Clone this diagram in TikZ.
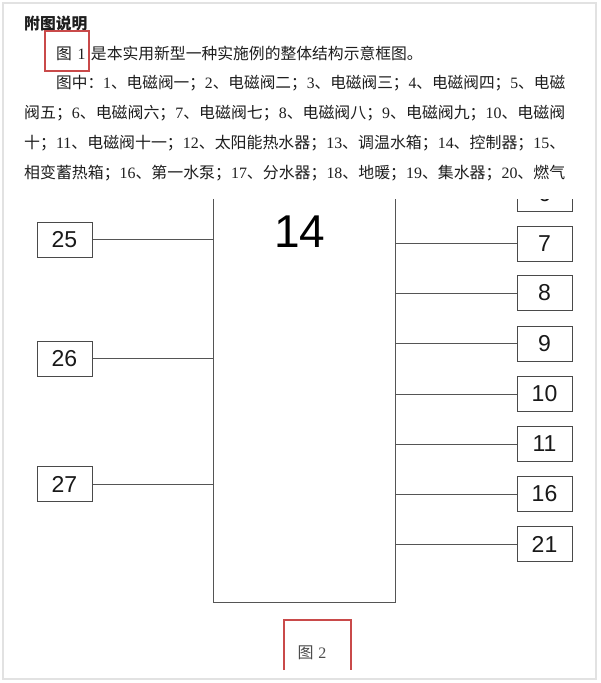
\documentclass[tikz,border=0pt]{standalone}
\usepackage{fontspec}
\usepackage{graphicx}
\setmainfont{Liberation Serif}
\newfontfamily\cjk{Noto Sans CJK SC}
\newfontfamily\arialf{Liberation Sans}
\newcommand\nm[1]{{\rmfamily #1}}
\definecolor{boxc}{HTML}{4A4A4A}
\definecolor{wirec}{HTML}{555555}
\definecolor{textc}{HTML}{1E1E1E}
\definecolor{redc}{HTML}{C94A4A}
\definecolor{framec}{HTML}{E2E2E2}
\tikzset{
  numbox/.style={draw=boxc, line width=1pt, minimum width=55pt, minimum height=35pt, inner sep=0pt,
    font=\arialf\fontsize{23pt}{23pt}\selectfont, text=black!90},
  wire/.style={draw=wirec, line width=1pt},
  txtline/.style={anchor=base west, inner sep=0pt, font=\cjk\fontsize{15.8pt}{18pt}\selectfont, text=textc},
  redmark/.style={draw=redc, line width=1.3pt}
}
\begin{document}
\begin{tikzpicture}[x=1pt,y=-1pt]
\useasboundingbox (0,0) rectangle (600,683);
\fill[white] (0,0) rectangle (600,683);
\draw[framec, line width=1.2pt] (3,3) rectangle (596,679);

% text block
\node[txtline, font=\cjk\bfseries\fontsize{15.8pt}{18pt}\selectfont] (title) at (24,29) {附图说明};
\node[txtline] (l1) at (56,59) {图\hspace{0.35em}\nm{1}\hspace{0.35em}是本实用新型一种实施例的整体结构示意框图。};
\node[txtline] (l2) at (56,88) {\resizebox{509pt}{\height}{图中：\nm{1}、电磁阀一；\nm{2}、电磁阀二；\nm{3}、电磁阀三；\nm{4}、电磁阀四；\nm{5}、电磁}};
\node[txtline] (l3) at (24,118) {\resizebox{541pt}{\height}{阀五；\nm{6}、电磁阀六；\nm{7}、电磁阀七；\nm{8}、电磁阀八；\nm{9}、电磁阀九；\nm{10}、电磁阀}};
\node[txtline] (l4) at (24,148) {\resizebox{541pt}{\height}{十；\nm{11}、电磁阀十一；\nm{12}、太阳能热水器；\nm{13}、调温水箱；\nm{14}、控制器；\nm{15}、}};
\node[txtline] (l5) at (24,178) {\resizebox{541pt}{\height}{相变蓄热箱；\nm{16}、第一水泵；\nm{17}、分水器；\nm{18}、地暖；\nm{19}、集水器；\nm{20}、燃气}};
\draw[redmark] (45,31) rectangle (89,71);

% controller
\node[minimum width=181pt, minimum height=403pt, inner sep=0pt] (ctrl) at (304.5,400.5) {};
\draw[wire] (ctrl.north west) -- (ctrl.south west) -- (ctrl.south east) -- (ctrl.north east);
\node[inner sep=0pt, font=\arialf\fontsize{46pt}{46pt}\selectfont, text=black] (t14) at (300,232) {14};

% left boxes
\node[numbox] (b25) at (64.5,239.5) {25};
\node[numbox] (b26) at (64.5,358.5) {26};
\node[numbox] (b27) at (64.5,484) {27};
\foreach \b in {b25,b26,b27} \draw[wire] (\b.east) -- (\b.east -| ctrl.west);

% right boxes
\begin{scope}
\clip (0,199) rectangle (600,683);
\node[numbox] (b6) at (544.5,193.5) {6};
\end{scope}
\node[numbox] (b7) at (544.5,243.5) {7};
\node[numbox] (b8) at (544.5,293) {8};
\node[numbox] (b9) at (544.5,343.5) {9};
\node[numbox] (b10) at (544.5,394) {10};
\node[numbox] (b11) at (544.5,444) {11};
\node[numbox] (b16) at (544.5,494) {16};
\node[numbox] (b21) at (544.5,544) {21};
\foreach \b in {b7,b8,b9,b10,b11,b16,b21} \draw[wire] (ctrl.east |- \b.west) -- (\b.west);

% caption
\node[inner sep=0pt, font=\cjk\fontsize{16pt}{18pt}\selectfont, text=black!70] (fig2) at (312,653) {图\hspace{0.3em}\nm{2}};
\draw[redmark] (284,670) -- (284,620) -- (351,620) -- (351,670);
\end{tikzpicture}
\end{document}
